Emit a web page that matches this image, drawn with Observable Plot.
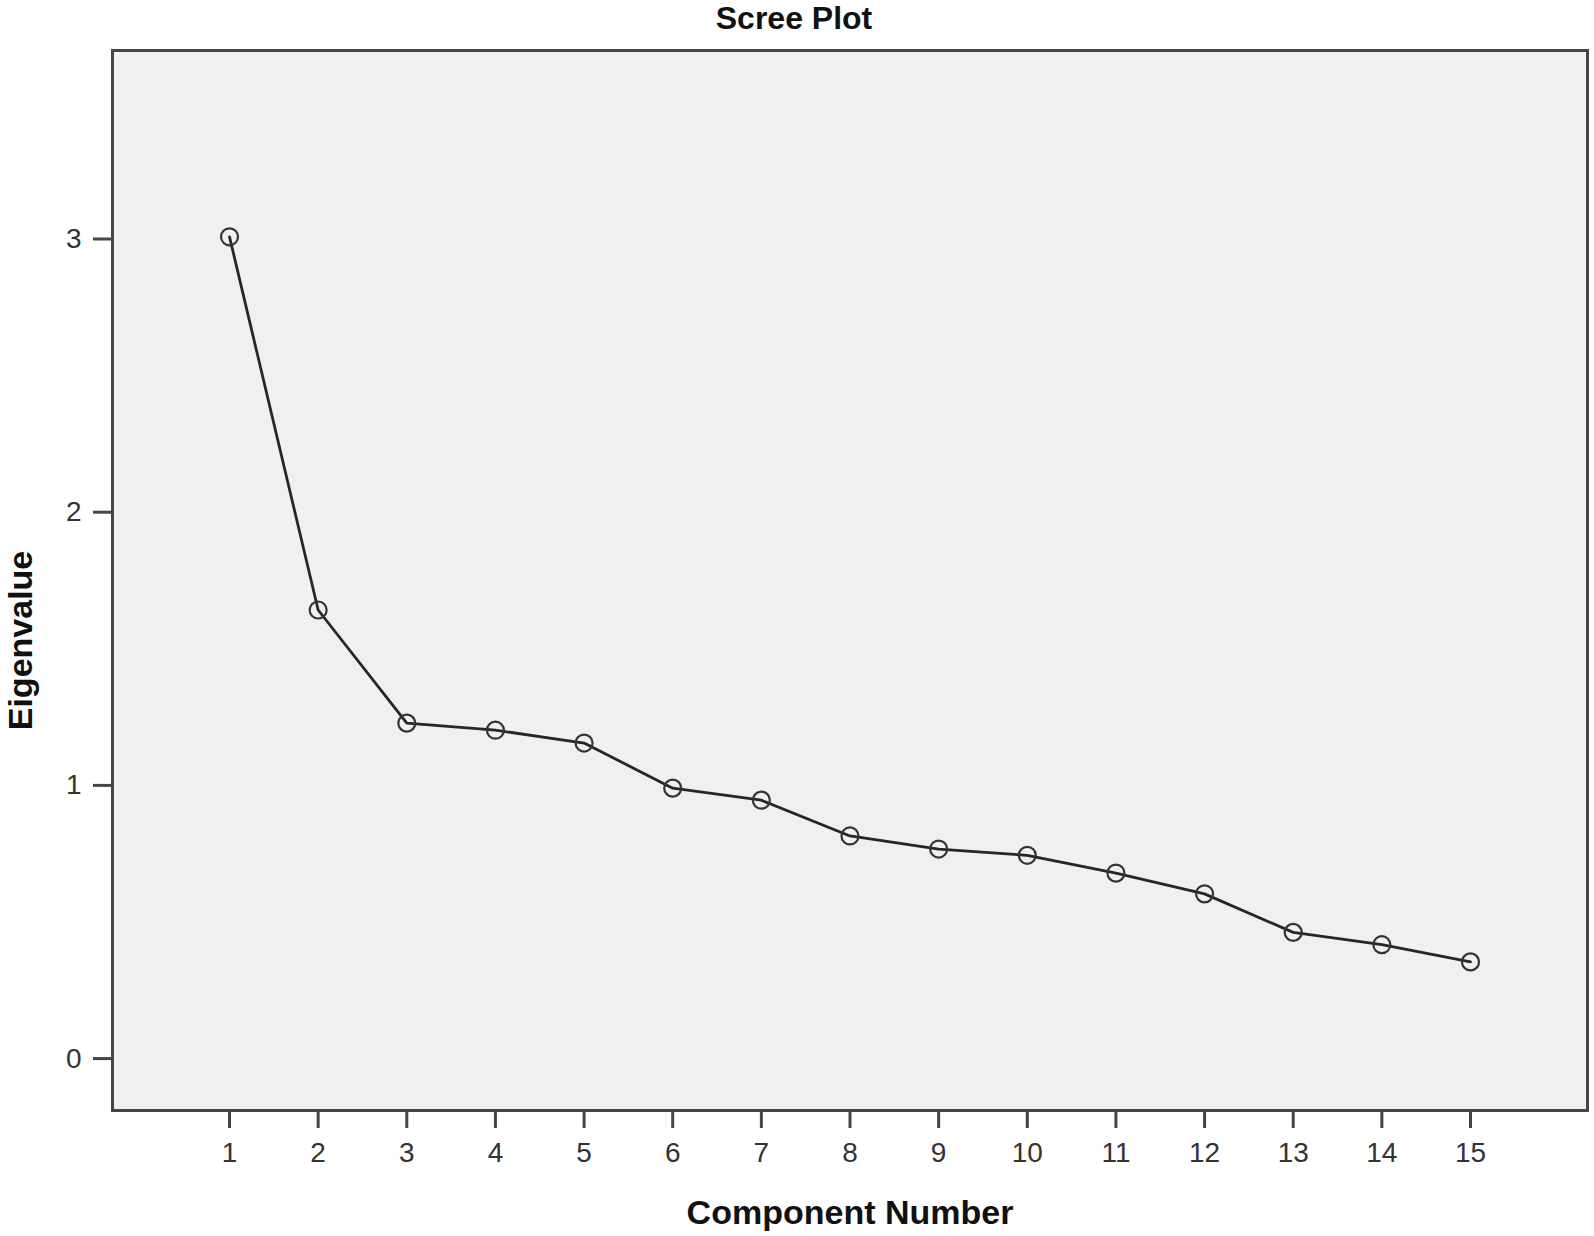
<!DOCTYPE html>
<html>
<head>
<meta charset="utf-8">
<script src="https://cdn.jsdelivr.net/npm/d3@7"></script>
<script src="https://cdn.jsdelivr.net/npm/@observablehq/plot@0.6"></script>
<style>
  html, body { margin: 0; padding: 0; background: #ffffff; }
  #chart svg { display: block; }
</style>
</head>
<body>
<div id="chart"></div>
<script>
const components = [1, 2, 3, 4, 5, 6, 7, 8, 9, 10, 11, 12, 13, 14, 15];
const eigenvalues = [3.008, 1.642, 1.228, 1.202, 1.155, 0.990, 0.946, 0.815, 0.767, 0.744, 0.679, 0.603, 0.462, 0.417, 0.354];
const xTicks = [1, 2, 3, 4, 5, 6, 7, 8, 9, 10, 11, 12, 13, 14, 15];
const yTicks = [0, 1, 2, 3];
const title = "Scree Plot";
const xLabel = "Component Number";
const yLabel = "Eigenvalue";

const data = components.map((c, i) => ({component: c, eigenvalue: eigenvalues[i]}));

const chart = Plot.plot({
  width: 1594,
  height: 1236,
  marginLeft: 112,
  marginRight: 7,
  marginTop: 50,
  marginBottom: 126,
  style: {fontFamily: "'Liberation Sans', Arial, sans-serif", background: "#ffffff"},
  x: {domain: [-0.32, 16.32]},
  y: {domain: [-0.19, 3.69]},
  marks: [
    Plot.frame({fill: "#f0f0f0", stroke: null}),
    Plot.line(data, {x: "component", y: "eigenvalue", stroke: "#262626", strokeWidth: 2.8}),
    Plot.dot(data, {x: "component", y: "eigenvalue", r: 8.5, stroke: "#333333", strokeWidth: 2.2, fill: "none"}),
    Plot.frame({stroke: "#454545", strokeWidth: 3}),
    Plot.axisX({ticks: xTicks, tickSize: 18, tickPadding: 14, fontSize: 28, stroke: "#454545", strokeWidth: 3, fill: "#333333", label: null, tickFormat: d => String(d)}),
    Plot.axisY({ticks: yTicks, tickSize: 19, tickPadding: 12, fontSize: 28, stroke: "#454545", strokeWidth: 3, fill: "#333333", label: null, tickFormat: d => String(d)}),
    Plot.text([title], {frameAnchor: "top", dx: -56, dy: -44, fontSize: 32, fontWeight: "bold", fill: "#111111"}),
    Plot.text([xLabel], {frameAnchor: "bottom", dy: 113, fontSize: 34, fontWeight: "bold", fill: "#111111"}),
    Plot.text([yLabel], {frameAnchor: "left", textAnchor: "middle", lineAnchor: "middle", dx: -91, dy: 60, rotate: -90, fontSize: 34, fontWeight: "bold", fill: "#111111"})
  ]
});
document.getElementById("chart").appendChild(chart);
</script>
</body>
</html>
